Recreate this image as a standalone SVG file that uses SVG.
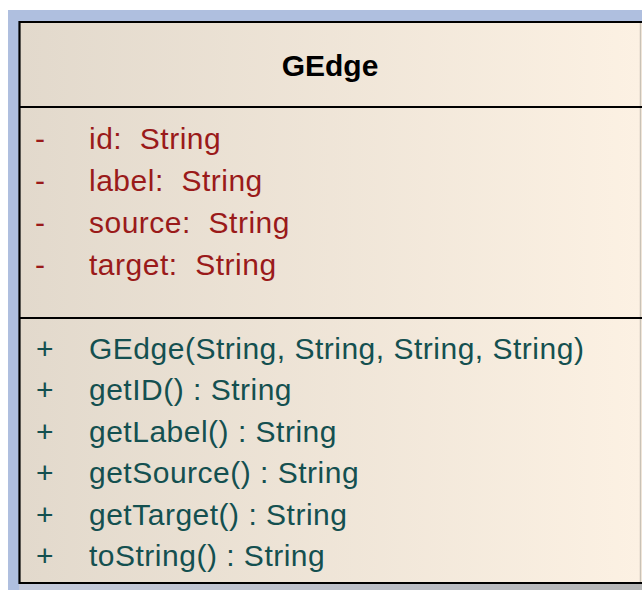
<svg xmlns="http://www.w3.org/2000/svg" width="642" height="590" viewBox="0 0 642 590">
  <defs>
    <linearGradient id="classFill" x1="0" y1="0" x2="1" y2="0">
      <stop offset="0" stop-color="#e2d9cc"/>
      <stop offset="1" stop-color="#fcf1e3"/>
    </linearGradient>
    <linearGradient id="shadowFill" x1="0" y1="0" x2="1" y2="0">
      <stop offset="0" stop-color="#c3cadc"/>
      <stop offset="1" stop-color="#b6b6b6"/>
    </linearGradient>
  </defs>
  <style>
    .title { font-family: "Liberation Sans", Arial, sans-serif; font-weight: bold; font-size: 30px; fill: #000; }
    .attr { font-family: "Liberation Sans", Arial, sans-serif; font-size: 30px; letter-spacing: 0.5px; fill: #9a1a1a; }
    .op { font-family: "Liberation Sans", Arial, sans-serif; font-size: 30px; letter-spacing: 0.5px; fill: #145050; }
    .edge { stroke: #000; stroke-width: 2.2; fill: none; }
  </style>

  <!-- canvas background -->
  <rect x="0" y="0" width="642" height="590" fill="#ffffff"/>
  <rect x="8" y="10" width="634" height="580" fill="#afbfdf"/>
  <rect x="19" y="584" width="623" height="6" fill="url(#shadowFill)"/>

  <g id="GEdge">
    <!-- body -->
    <rect x="19" y="21" width="623" height="563" fill="url(#classFill)"/>
    <line x1="640.5" y1="22" x2="640.5" y2="583" stroke="#c9c2b6" stroke-width="1.5"/>
    <path class="edge" d="M642 22 H19.5 V583 H642"/>
    <line class="edge" x1="19" y1="107" x2="642" y2="107"/>
    <line class="edge" x1="19" y1="318" x2="642" y2="318"/>

    <!-- name -->
    <text class="title" x="330" y="76" text-anchor="middle">GEdge</text>

    <!-- attributes -->
    <g class="attr">
      <text x="35" y="149">-</text><text x="89" y="149">id:&#160; String</text>
      <text x="35" y="191">-</text><text x="89" y="191">label:&#160; String</text>
      <text x="35" y="233">-</text><text x="89" y="233">source:&#160; String</text>
      <text x="35" y="275">-</text><text x="89" y="275">target:&#160; String</text>
    </g>

    <!-- operations -->
    <g class="op">
      <text x="36" y="359">+</text><text x="89" y="359">GEdge(String, String, String, String)</text>
      <text x="36" y="400.4">+</text><text x="89" y="400.4">getID() : String</text>
      <text x="36" y="441.8">+</text><text x="89" y="441.8">getLabel() : String</text>
      <text x="36" y="483.2">+</text><text x="89" y="483.2">getSource() : String</text>
      <text x="36" y="524.6">+</text><text x="89" y="524.6">getTarget() : String</text>
      <text x="36" y="566">+</text><text x="89" y="566">toString() : String</text>
    </g>
  </g>

  <g id="connectors"/>
</svg>
